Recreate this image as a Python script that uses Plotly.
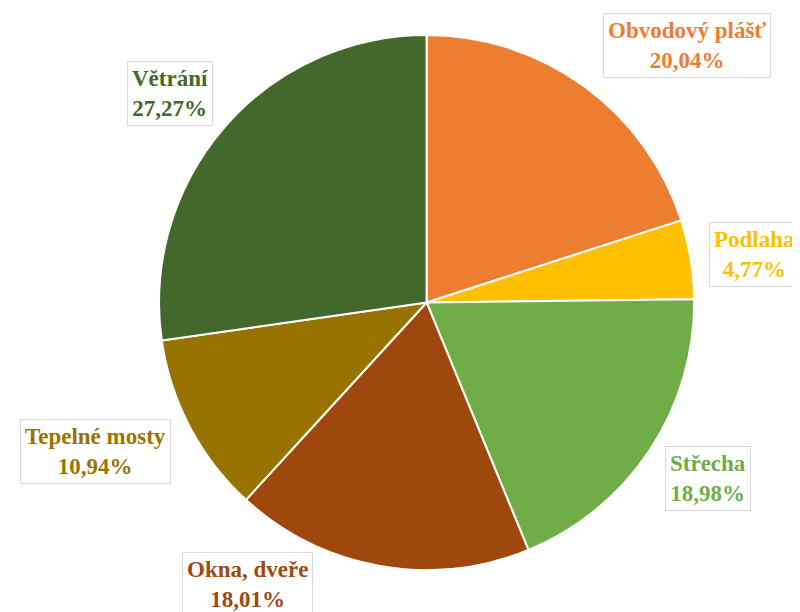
import plotly.graph_objects as go

# data
labels = ["Obvodový plášť", "Podlaha", "Střecha", "Okna, dveře", "Tepelné mosty", "Větrání"]
values = [20.04, 4.77, 18.98, 18.01, 10.94, 27.27]
colors = ["#ED7D31", "#FFC000", "#70AD47", "#9E480E", "#997300", "#43682B"]

# label box centres in paper coords (layout only)
label_pos = [(0.849, 0.938), (0.9325, 0.598), (0.875, 0.232), (0.299, 0.058), (0.109, 0.276), (0.2025, 0.861)]

fig = go.Figure(go.Pie(
    labels=labels,
    values=values,
    sort=False,
    direction="clockwise",
    rotation=0,
    marker=dict(colors=colors, line=dict(color="white", width=2)),
    textinfo="none",
    hoverinfo="label+percent",
    domain=dict(x=[0.1875, 0.859], y=[0.0817, 0.956]),
    showlegend=False,
))

for lab, val, col, (ax, ay) in zip(labels, values, colors, label_pos):
    txt = f"{lab}<br>{val:.2f}%".replace(".", ",")
    fig.add_annotation(
        x=ax, y=ay, xref="paper", yref="paper",
        xanchor="center", yanchor="middle",
        text=txt, showarrow=False,
        font=dict(family="Liberation Serif, Times New Roman, serif", size=23, color=col, weight="bold"),
        bgcolor="white", bordercolor="#D9D9D9", borderwidth=1, borderpad=4,
    )

fig.update_layout(
    width=800, height=612,
    margin=dict(l=0, r=0, t=0, b=0),
    paper_bgcolor="white",
    plot_bgcolor="white",
)

fig.write_html("out.html")
